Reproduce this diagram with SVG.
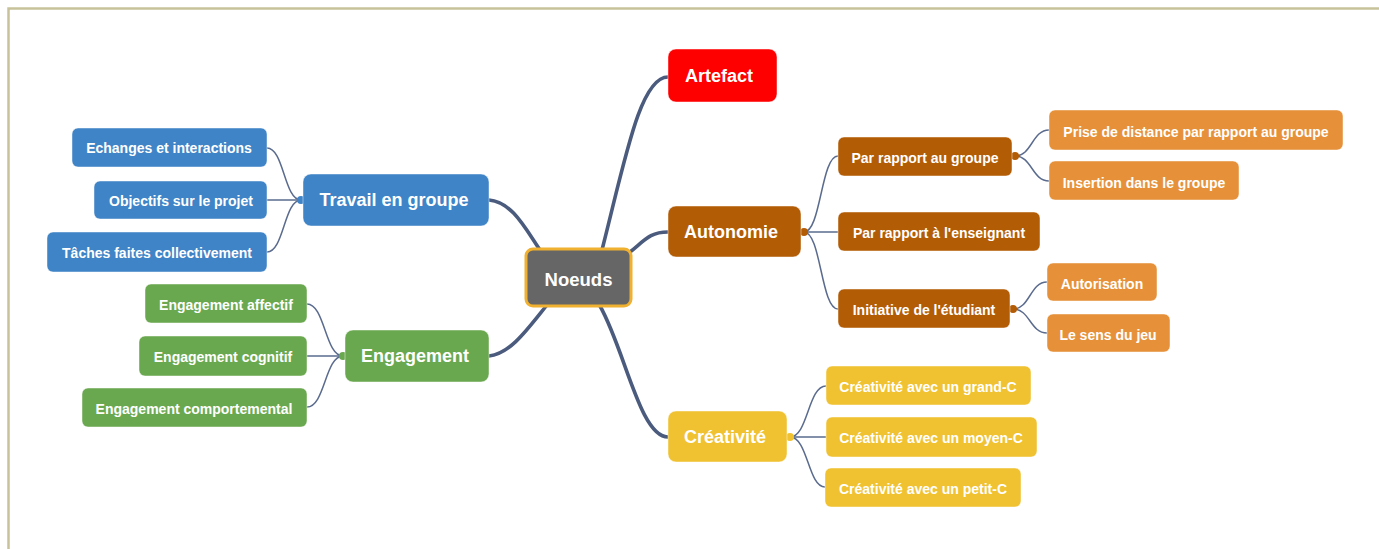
<svg xmlns="http://www.w3.org/2000/svg" width="1379" height="549" viewBox="0 0 1379 549">
<style>
text{font-family:"Liberation Sans",Arial,sans-serif;font-weight:bold;fill:#fff;text-anchor:middle;dominant-baseline:central}
.big{font-size:18px}
.mid{font-size:14px}
.main{stroke:#4b5b7e;stroke-width:3.6;fill:none;stroke-linecap:round}
.sub{stroke:#5a6b8e;stroke-width:1.5;fill:none}
.blue{fill:#3f84c6}
.green{fill:#6aa84f}
.dor{fill:#b35c06}
.lor{fill:#e6913a}
.yel{fill:#f0c232}
rect{stroke:#ffffff;stroke-opacity:.45;stroke-width:1}
rect.root{fill:#666666;stroke:#f0b030;stroke-opacity:1;stroke-width:3}
</style>
<rect x="0" y="0" width="1379" height="549" fill="#fff" style="stroke:none"/>
<path d="M8.5,549 V8.5 H1379" fill="none" stroke="#c8c29a" stroke-width="2.5"/>
<g id="connectors">
<path class="main" d="M540,250 C525,228 512,202 489,200"/>
<path class="main" d="M547,305 C527,330 510,354 489,356"/>
<path class="main" d="M602,250 C625,160 640,77 668,77"/>
<path class="main" d="M630,252 C645,240 650,232 668,232"/>
<path class="main" d="M600,306 C625,350 640,437 668,437"/>
<path class="sub" d="M301,200 C284,200 284,148 267,148"/>
<path class="sub" d="M301,200 H267"/>
<path class="sub" d="M301,200 C284,200 284,252 267,252"/>
<path class="sub" d="M343,356 C325,356 325,304 307,304"/>
<path class="sub" d="M343,356 H307"/>
<path class="sub" d="M343,356 C325,356 325,407 307,407"/>
<path class="sub" d="M804,232 C821,232 821,156 838,156"/>
<path class="sub" d="M804,232 H838"/>
<path class="sub" d="M804,232 C821,232 821,309 838,309"/>
<path class="sub" d="M1015,156 C1032,156 1032,130 1049,130"/>
<path class="sub" d="M1015,156 C1032,156 1032,181 1049,181"/>
<path class="sub" d="M1013,309 C1030,309 1030,282 1047,282"/>
<path class="sub" d="M1013,309 C1030,309 1030,333 1047,333"/>
<path class="sub" d="M790,437 C808,437 808,386 826,386"/>
<path class="sub" d="M790,437 H826"/>
<path class="sub" d="M790,437 C808,437 808,487 825,487"/>
<circle cx="301" cy="200" r="4" class="blue"/>
<circle cx="343" cy="356" r="4" class="green"/>
<circle cx="804" cy="232" r="4" class="dor"/>
<circle cx="1015" cy="156" r="4" class="dor"/>
<circle cx="1013" cy="309" r="4" class="dor"/>
<circle cx="790" cy="437" r="4" class="yel"/>
</g>
<g id="noeuds"><rect x="526" y="249" width="105" height="57" rx="7" class="root"/><text x="578.5" y="279" style="font-size:18.5px">Noeuds</text></g>
<g id="artefact"><rect x="668" y="49" width="109" height="53" rx="8" fill="#ff0000"/><text x="719" y="76" class="big">Artefact</text></g>
<g id="autonomie"><rect x="668" y="206" width="133" height="51" rx="8" class="dor"/><text x="731" y="232" class="big">Autonomie</text></g>
<g id="creativite"><rect x="668" y="411" width="119" height="51" rx="8" class="yel"/><text x="725" y="437" class="big">Créativité</text></g>
<g id="travail"><rect x="303" y="174" width="186" height="52" rx="8" class="blue"/><text x="394" y="200" class="big">Travail en groupe</text></g>
<g id="engagement"><rect x="345" y="330" width="144" height="52" rx="8" class="green"/><text x="415" y="356" class="big">Engagement</text></g>
<g id="echanges"><rect x="72" y="128" width="195" height="39" rx="6" class="blue"/><text x="169" y="148" class="mid">Echanges et interactions</text></g>
<g id="objectifs"><rect x="94" y="181" width="173" height="38" rx="6" class="blue"/><text x="181" y="201" class="mid">Objectifs sur le projet</text></g>
<g id="taches"><rect x="47" y="232" width="220" height="40" rx="6" class="blue"/><text x="157" y="253" class="mid">Tâches faites collectivement</text></g>
<g id="eng-affectif"><rect x="145" y="284" width="162" height="39" rx="6" class="green"/><text x="226" y="305" class="mid">Engagement affectif</text></g>
<g id="eng-cognitif"><rect x="139" y="336" width="168" height="40" rx="6" class="green"/><text x="223" y="357" class="mid">Engagement cognitif</text></g>
<g id="eng-comportemental"><rect x="82" y="388" width="225" height="39" rx="6" class="green"/><text x="194" y="409" class="mid">Engagement comportemental</text></g>
<g id="par-groupe"><rect x="838" y="137" width="174" height="39" rx="6" class="dor"/><text x="925" y="158" class="mid">Par rapport au groupe</text></g>
<g id="par-enseignant"><rect x="838" y="212" width="202" height="39" rx="6" class="dor"/><text x="939" y="233" class="mid">Par rapport à l'enseignant</text></g>
<g id="initiative"><rect x="838" y="289" width="172" height="39" rx="6" class="dor"/><text x="924" y="310" class="mid">Initiative de l'étudiant</text></g>
<g id="prise-distance"><rect x="1049" y="110" width="294" height="40" rx="6" class="lor"/><text x="1196" y="132" class="mid">Prise de distance par rapport au groupe</text></g>
<g id="insertion"><rect x="1049" y="161" width="190" height="39" rx="6" class="lor"/><text x="1144" y="183" class="mid">Insertion dans le groupe</text></g>
<g id="autorisation"><rect x="1047" y="263" width="110" height="38" rx="6" class="lor"/><text x="1102" y="284" class="mid">Autorisation</text></g>
<g id="sens-jeu"><rect x="1047" y="314" width="123" height="38" rx="6" class="lor"/><text x="1108" y="335" class="mid">Le sens du jeu</text></g>
<g id="grand-c"><rect x="826" y="366" width="205" height="39" rx="6" class="yel"/><text x="928" y="387" class="mid">Créativité avec un grand-C</text></g>
<g id="moyen-c"><rect x="826" y="417" width="211" height="40" rx="6" class="yel"/><text x="931" y="438" class="mid">Créativité avec un moyen-C</text></g>
<g id="petit-c"><rect x="825" y="468" width="196" height="39" rx="6" class="yel"/><text x="923" y="489" class="mid">Créativité avec un petit-C</text></g>
</svg>
